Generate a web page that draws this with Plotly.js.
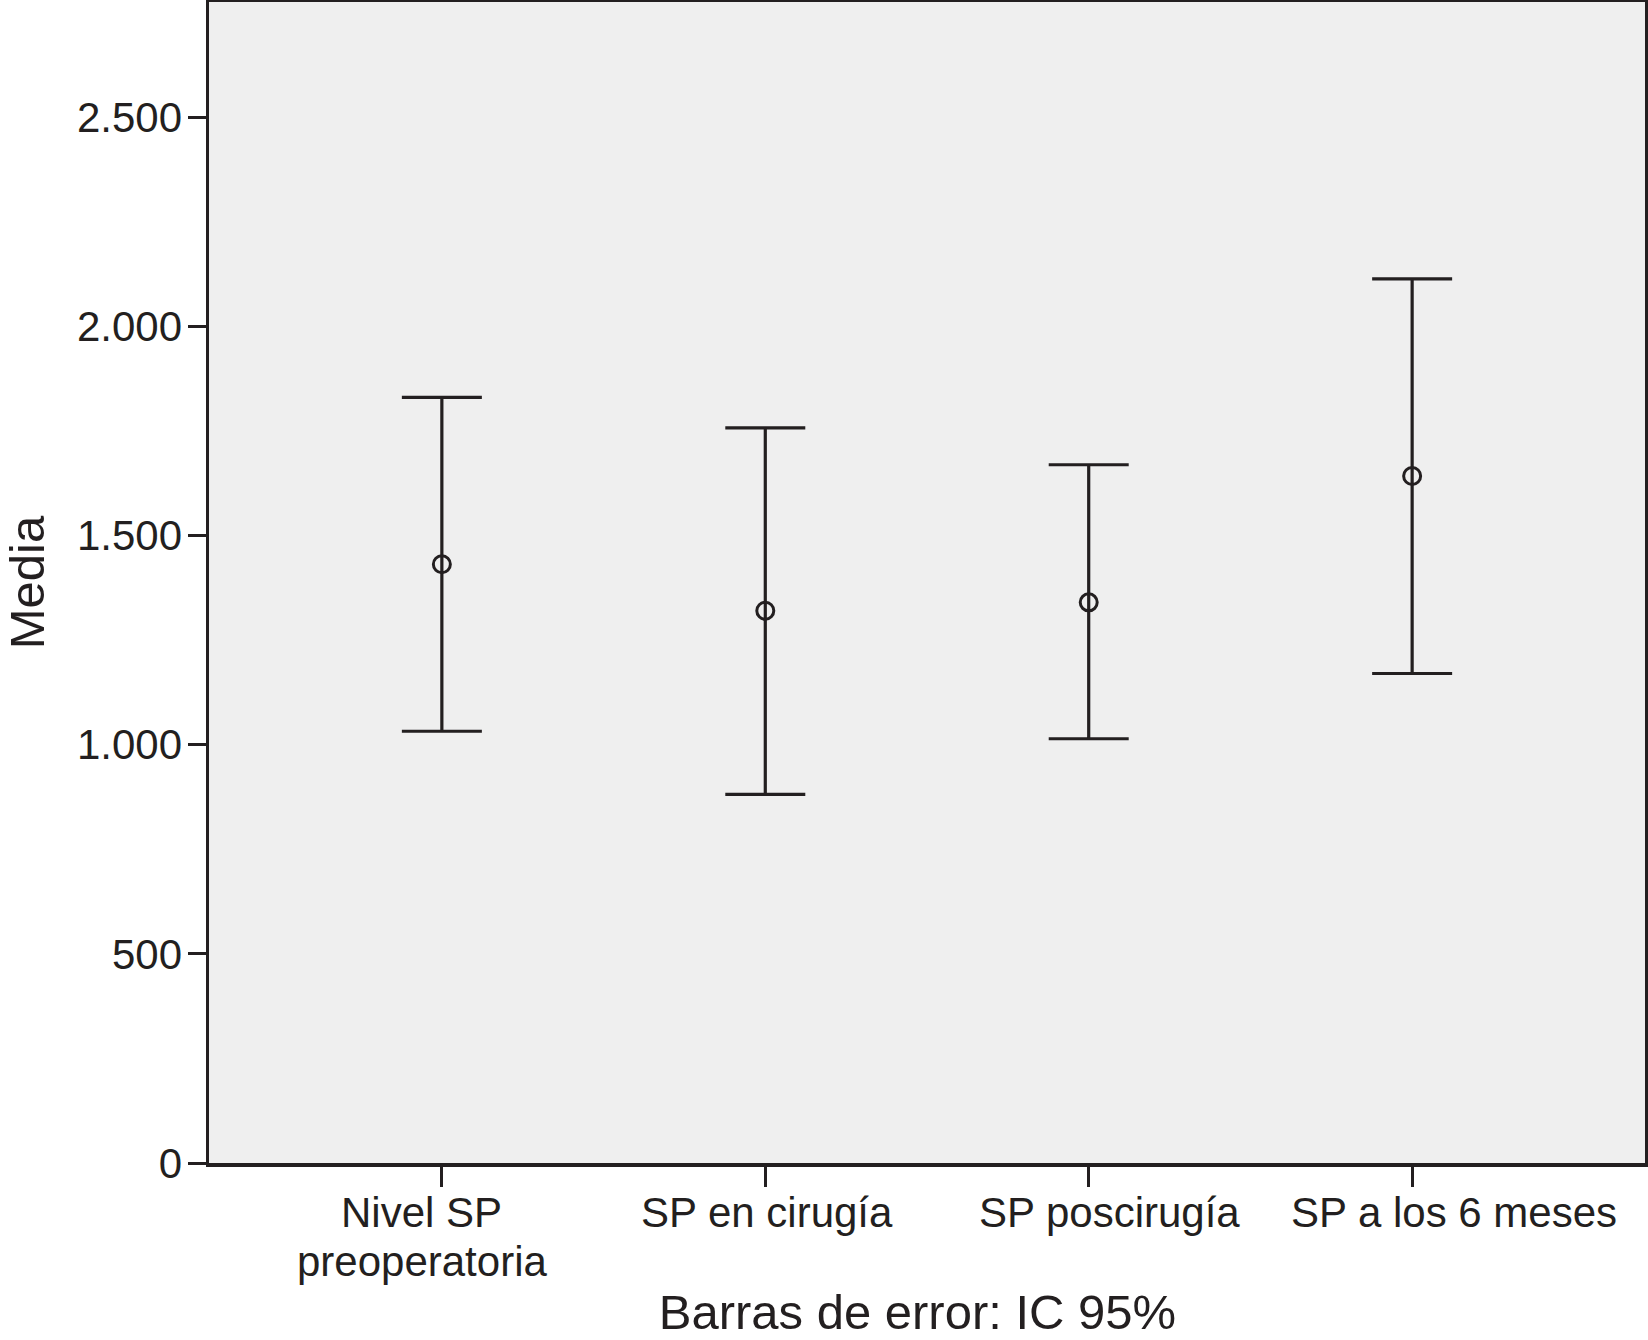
<!DOCTYPE html>
<html>
<head>
<meta charset="utf-8">
<script src="https://cdn.plot.ly/plotly-3.0.1.min.js"></script>
<style>html,body{margin:0;padding:0;background:#fff;}#chart{width:1648px;height:1340px;}</style>
</head>
<body>
<div id="chart"></div>
<script>
const categories = ["Nivel SP<br>preoperatoria", "SP en cirugía", "SP poscirugía", "SP a los 6 meses"];
const means = [1431, 1320, 1340, 1642];
const ciUpper = [1830, 1757, 1669, 2113];
const ciLower = [1032, 881, 1014, 1170];
const yTicks = [0, 500, 1000, 1500, 2000, 2500];
const xTitle = "Barras de error: IC 95%";
const yTitle = "Media";

const ink = "#231f20";
const errPlus = means.map((m, i) => ciUpper[i] - m);
const errMinus = means.map((m, i) => m - ciLower[i]);

const trace = {
  type: "scatter",
  mode: "markers",
  x: categories,
  y: means,
  marker: {symbol: "circle-open", size: 17, color: ink, line: {color: ink, width: 3}},
  error_y: {
    type: "data", symmetric: false,
    array: errPlus, arrayminus: errMinus,
    color: ink, thickness: 3.2, width: 40
  },
  showlegend: false,
  hoverinfo: "x+y"
};

// category labels drawn as annotations (SPSS places them slightly off the tick)
const labelShift = [-20, 2, 21, 42];
const annotations = [];
categories.forEach((c, i) => {
  c.split("<br>").forEach((line, j) => {
    annotations.push({
      xref: "x", yref: "paper", x: c, y: 0,
      xanchor: "center", yanchor: "top",
      xshift: labelShift[i], yshift: -24 - j * 49,
      text: line, showarrow: false,
      font: {size: 42, color: ink}
    });
  });
});

const layout = {
  width: 1648, height: 1340,
  margin: {l: 209, r: 3, t: 2, b: 177},
  paper_bgcolor: "#ffffff",
  plot_bgcolor: "#efefef",
  separators: ",.",
  font: {family: "'Liberation Sans', Arial, Helvetica, sans-serif", color: ink, size: 42},
  // the x-axis caption sits at the very bottom of the figure
  title: {
    text: xTitle, font: {size: 49, color: ink},
    xref: "container", yref: "container",
    x: 0.5567, xanchor: "center",
    y: 0.0085, yanchor: "bottom",
    pad: {t: 0, b: 0, l: 0, r: 0}
  },
  annotations: annotations,
  xaxis: {
    type: "category",
    range: [-0.72, 3.72],
    showgrid: false, zeroline: false,
    showline: true, linecolor: ink, linewidth: 3.5, mirror: true,
    ticks: "outside", ticklen: 20, tickwidth: 3, tickcolor: ink,
    showticklabels: false,
    automargin: false
  },
  yaxis: {
    range: [0, 2775],
    tickvals: yTicks,
    tickformat: ",d",
    showgrid: false, zeroline: false,
    showline: true, linecolor: ink, linewidth: 3.5, mirror: true,
    ticks: "outside", ticklen: 18, tickwidth: 3, tickcolor: ink,
    ticklabelstandoff: -3,
    tickfont: {size: 42, color: ink},
    title: {text: yTitle, font: {size: 49, color: ink}, standoff: 20},
    automargin: false
  }
};

Plotly.newPlot("chart", [trace], layout, {displayModeBar: false, staticPlot: true});
</script>
</body>
</html>
